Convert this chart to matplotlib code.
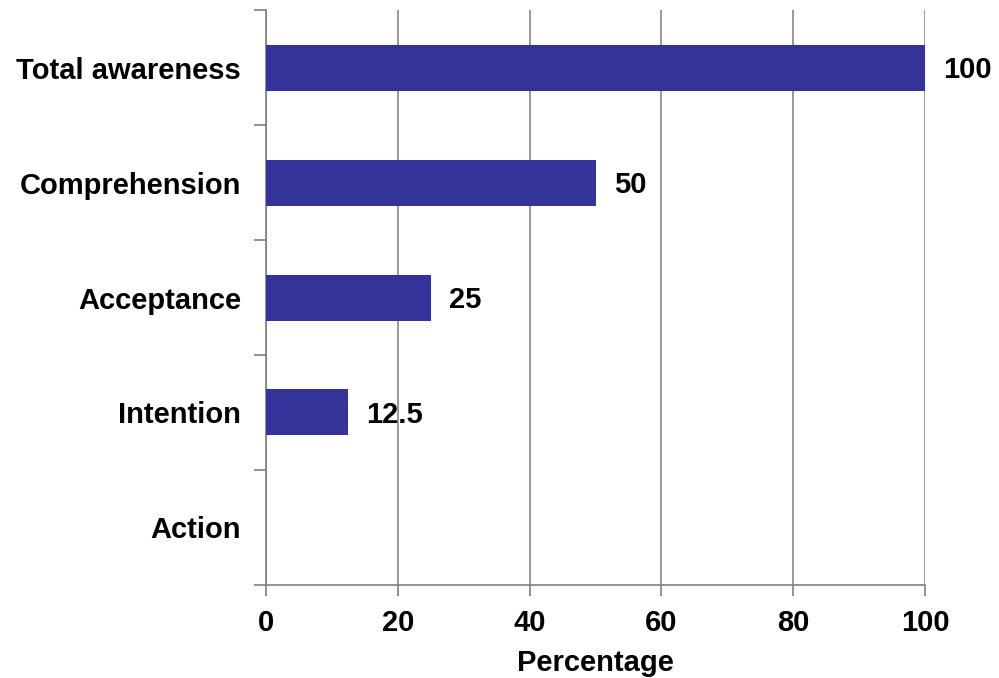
import matplotlib
matplotlib.use("Agg")
import numpy as np
import matplotlib.pyplot as plt

# Funnel stages and their share of total awareness
stages = ["Total awareness", "Comprehension", "Acceptance", "Intention", "Action"]
percent = [100, 50, 25, 12.5, 0]
xticks = [0, 20, 40, 60, 80, 100]

plt.rcParams['font.family'] = ['Liberation Sans', 'DejaVu Sans']
plt.rcParams['font.weight'] = 'bold'
fs = 21

fig = plt.figure(figsize=(9.99, 6.78), dpi=100)
ax = fig.add_axes([0.2663, 0.1372, 0.6597, 0.8480])

pos = np.arange(len(stages))
ax.barh(pos, percent, height=0.4, color='#333399', zorder=3)

# value labels to the right of each bar (skip empty stages)
for p, v in zip(pos, percent):
    if v > 0:
        txt = ('%g' % v)
        ax.annotate(txt, xy=(v, p), xytext=(13, -2), textcoords='offset points',
                    va='center', ha='left', fontsize=fs, fontweight='bold')

ax.set_xlim(0, 100)
ax.set_ylim(len(stages) - 0.5, -0.5)
ax.set_xticks(xticks)
ax.set_xticklabels([str(t) for t in xticks], fontsize=fs, fontweight='bold')

# category names sit between the boundary ticks
ax.set_yticks(np.arange(len(stages) + 1) - 0.5)
ax.set_yticklabels([])
ax.set_yticks(pos, minor=True)
ax.set_yticklabels(stages, minor=True, fontsize=fs, fontweight='bold')
ax.tick_params(axis='y', which='minor', length=0, pad=18)
ax.tick_params(axis='y', which='major', length=9, color='#808080', width=1.2)
ax.tick_params(axis='x', length=8, color='#808080', width=1.2, pad=9)

ax.xaxis.grid(True, color='#888888', linewidth=1.2, zorder=0)
for s in ['top', 'right']:
    ax.spines[s].set_visible(False)
for s in ['left', 'bottom']:
    ax.spines[s].set_color('#808080')
    ax.spines[s].set_linewidth(1.2)

ax.set_xlabel("Percentage", fontsize=fs, fontweight='bold', labelpad=9)

plt.savefig("out.png", dpi=100)
